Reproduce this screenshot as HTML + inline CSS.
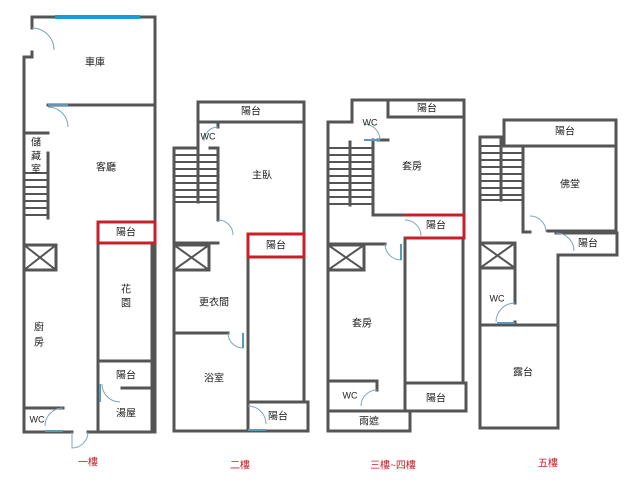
<!DOCTYPE html>
<html><head><meta charset="utf-8"><style>
html,body{margin:0;padding:0;background:#fff;}
svg{display:block;}
text{font-family:"Liberation Sans","Noto Sans CJK TC",sans-serif;font-size:10px;fill:#222;text-anchor:middle;dominant-baseline:middle;}
.r{fill:#c8202a;}
</style></head><body>
<svg width="628" height="480" viewBox="0 0 628 480" xmlns="http://www.w3.org/2000/svg">
<g fill="none" stroke="#555" stroke-width="3" stroke-linecap="square">
<!-- Floor 1 -->
<polyline points="32,28 32,17 155,17 155,432 88,432"/>
<polyline points="72,432 24,432 24,57 32,57 32,52"/>
<line x1="48" y1="105" x2="155" y2="105"/>
<line x1="24" y1="133" x2="48" y2="133"/>
<line x1="48" y1="153" x2="48" y2="218"/>
<g stroke-width="2"><line x1="24" y1="173" x2="48" y2="173"/><line x1="24" y1="180" x2="48" y2="180"/><line x1="24" y1="187" x2="48" y2="187"/><line x1="24" y1="194" x2="48" y2="194"/><line x1="24" y1="201" x2="48" y2="201"/><line x1="24" y1="208" x2="48" y2="208"/><line x1="24" y1="215" x2="48" y2="215"/></g>
<rect x="24" y="245" width="32" height="25"/><line x1="24" y1="245" x2="56" y2="270" stroke-width="2"/><line x1="56" y1="245" x2="24" y2="270" stroke-width="2"/>
<line x1="98" y1="243" x2="98" y2="432"/>
<line x1="152" y1="243" x2="152" y2="432"/>
<line x1="98" y1="361" x2="152" y2="361"/>
<line x1="122" y1="388" x2="152" y2="388"/>
<line x1="24" y1="408" x2="63" y2="408"/>
<!-- Floor 2 -->
<rect x="198" y="102" width="106" height="20"/>
<polyline points="198,122 198,148 174,148 174,431 308,431 308,402 248,402"/>
<line x1="304" y1="122" x2="304" y2="402"/>
<line x1="218" y1="122" x2="218" y2="127"/>
<line x1="210" y1="148" x2="218" y2="148"/>
<line x1="218" y1="148" x2="218" y2="220"/>
<line x1="174" y1="243" x2="218" y2="243"/>
<line x1="198" y1="148" x2="198" y2="202"/>
<g stroke-width="2"><line x1="174" y1="155" x2="218" y2="155"/><line x1="174" y1="162" x2="218" y2="162"/><line x1="174" y1="169" x2="218" y2="169"/><line x1="174" y1="176" x2="218" y2="176"/><line x1="174" y1="183" x2="218" y2="183"/><line x1="174" y1="190" x2="218" y2="190"/><line x1="174" y1="197" x2="218" y2="197"/><line x1="174" y1="202" x2="218" y2="202"/></g>
<rect x="174" y="245" width="35" height="25"/><line x1="174" y1="245" x2="209" y2="270" stroke-width="2"/><line x1="209" y1="245" x2="174" y2="270" stroke-width="2"/>
<line x1="248" y1="257" x2="248" y2="431"/>
<line x1="174" y1="333" x2="228" y2="333"/>
<!-- Floor 3 -->
<polyline points="328,431 328,122 352,122 352,100 464,100 464,215"/>
<line x1="388" y1="100" x2="388" y2="117"/><line x1="388" y1="117" x2="464" y2="117"/>
<line x1="373" y1="140" x2="373" y2="215"/><line x1="373" y1="215" x2="405" y2="215"/>
<line x1="463" y1="238" x2="463" y2="383"/>
<line x1="378" y1="140" x2="388" y2="140"/>
<line x1="350" y1="142" x2="350" y2="205"/>
<g stroke-width="2"><line x1="328" y1="148" x2="373" y2="148"/><line x1="328" y1="155" x2="373" y2="155"/><line x1="328" y1="162" x2="373" y2="162"/><line x1="328" y1="169" x2="373" y2="169"/><line x1="328" y1="176" x2="373" y2="176"/><line x1="328" y1="183" x2="373" y2="183"/><line x1="328" y1="190" x2="373" y2="190"/><line x1="328" y1="197" x2="373" y2="197"/><line x1="328" y1="204" x2="373" y2="204"/></g>
<line x1="328" y1="244" x2="385" y2="244"/>
<rect x="328" y="245" width="36" height="25"/><line x1="328" y1="245" x2="364" y2="270" stroke-width="2"/><line x1="364" y1="245" x2="328" y2="270" stroke-width="2"/>
<line x1="405" y1="238" x2="405" y2="411"/>
<rect x="405" y="383" width="61" height="28"/>
<line x1="328" y1="381" x2="377" y2="381"/><line x1="377" y1="381" x2="377" y2="390"/>
<line x1="328" y1="411" x2="405" y2="411"/>
<polyline points="328,411 328,431 410,431 410,411"/>
<!-- Floor 4 -->
<rect x="504" y="120" width="112" height="26"/>
<polyline points="504,137 480,137 480,428 558,428 558,255 617,255 617,233 556,233"/>
<line x1="616" y1="146" x2="616" y2="233"/>
<line x1="523" y1="146" x2="523" y2="232"/><line x1="523" y1="232" x2="530" y2="232"/>
<line x1="548" y1="231" x2="616" y2="231"/>
<line x1="501" y1="140" x2="501" y2="200"/>
<g stroke-width="2"><line x1="480" y1="146" x2="523" y2="146"/><line x1="480" y1="153" x2="523" y2="153"/><line x1="480" y1="160" x2="523" y2="160"/><line x1="480" y1="167" x2="523" y2="167"/><line x1="480" y1="174" x2="523" y2="174"/><line x1="480" y1="181" x2="523" y2="181"/><line x1="480" y1="188" x2="523" y2="188"/><line x1="480" y1="195" x2="523" y2="195"/><line x1="480" y1="200" x2="523" y2="200"/></g>
<rect x="480" y="243" width="35" height="25"/><line x1="480" y1="243" x2="515" y2="268" stroke-width="2"/><line x1="515" y1="243" x2="480" y2="268" stroke-width="2"/>
<line x1="515" y1="268" x2="515" y2="303"/>
<line x1="480" y1="325" x2="558" y2="325"/>
<line x1="515" y1="322" x2="515" y2="325"/>
</g>
<!-- red balconies -->
<g fill="none" stroke="#c8202a" stroke-width="3">
<rect x="98" y="222" width="57" height="21"/>
<rect x="248" y="234" width="56" height="23"/>
<polyline points="405,215 464,215 464,238 405,238"/>
</g>
<!-- blue window -->
<line x1="55" y1="17" x2="140" y2="17" stroke="#1a9ad6" stroke-width="4"/>
<!-- doors -->
<g fill="none" stroke="#7aa6b8" stroke-width="1">
<path d="M32,28 A22,22 0 0 1 54,50"/>
<path d="M48,107 A20,20 0 0 1 68,127"/>
<path d="M63,408 A18,18 0 0 0 45,426"/>
<path d="M72,432 L72,448 A16,16 0 0 0 88,432"/>
<path d="M102,384 A18,18 0 0 0 120,402"/>
<path d="M218,220 A15,15 0 0 1 233,235"/>
<path d="M228,333 A15,15 0 0 0 243,348"/>
<path d="M248,406 A18,18 0 0 1 266,424"/>
<path d="M218,127 A14,14 0 0 0 204,141"/>
<path d="M364,124 A16,16 0 0 1 380,140"/>
<path d="M405,220 A16,16 0 0 1 421,236"/>
<path d="M385,244 A16,16 0 0 0 401,260"/>
<path d="M377,390 A16,16 0 0 0 361,406"/>
<path d="M530,216 A16,16 0 0 1 546,232"/>
<path d="M556,233 A18,18 0 0 1 574,251"/>
<path d="M515,303 A19,19 0 0 0 496,322"/>
</g>
<g stroke="#5a9ab8" stroke-width="2">
<line x1="48" y1="105" x2="68" y2="105"/>
<line x1="45" y1="431" x2="63" y2="431"/>
<line x1="100" y1="384" x2="100" y2="402"/>
<line x1="243" y1="333" x2="243" y2="348"/>
<line x1="248" y1="430" x2="266" y2="430"/>
<line x1="364" y1="140" x2="380" y2="140"/>
<line x1="401" y1="244" x2="401" y2="260"/>
<line x1="497" y1="323" x2="515" y2="323"/>
</g>
<!-- labels -->
<text x="95" y="63">車庫</text>
<text x="106" y="168">客廳</text>
<text x="36" y="143">儲</text><text x="36" y="157">藏</text><text x="36" y="170">室</text>
<text x="126" y="233">陽台</text>
<text x="126" y="290">花</text><text x="126" y="304">園</text>
<text x="39" y="328">廚</text><text x="39" y="343">房</text>
<text x="126" y="376">陽台</text>
<text x="126" y="414">湯屋</text>
<text x="37" y="420" style="font-size:9px">WC</text>
<text class="r" x="88" y="463">一樓</text>
<text x="251" y="112">陽台</text>
<text x="208" y="137" style="font-size:9px">WC</text>
<text x="262" y="176">主臥</text>
<text x="276" y="246">陽台</text>
<text x="214" y="303">更衣間</text>
<text x="214" y="379">浴室</text>
<text x="278" y="417">陽台</text>
<text class="r" x="240" y="466">二樓</text>
<text x="427" y="109">陽台</text>
<text x="370" y="123" style="font-size:9px">WC</text>
<text x="412" y="167">套房</text>
<text x="436" y="226">陽台</text>
<text x="362" y="324">套房</text>
<text x="350" y="396" style="font-size:9px">WC</text>
<text x="436" y="399">陽台</text>
<text x="369" y="422">雨遮</text>
<text class="r" x="393" y="466">三樓~四樓</text>
<text x="565" y="132">陽台</text>
<text x="570" y="185">佛堂</text>
<text x="588" y="244">陽台</text>
<text x="497" y="299" style="font-size:9px">WC</text>
<text x="523" y="373">露台</text>
<text class="r" x="548" y="464">五樓</text>
</svg>
</body></html>
